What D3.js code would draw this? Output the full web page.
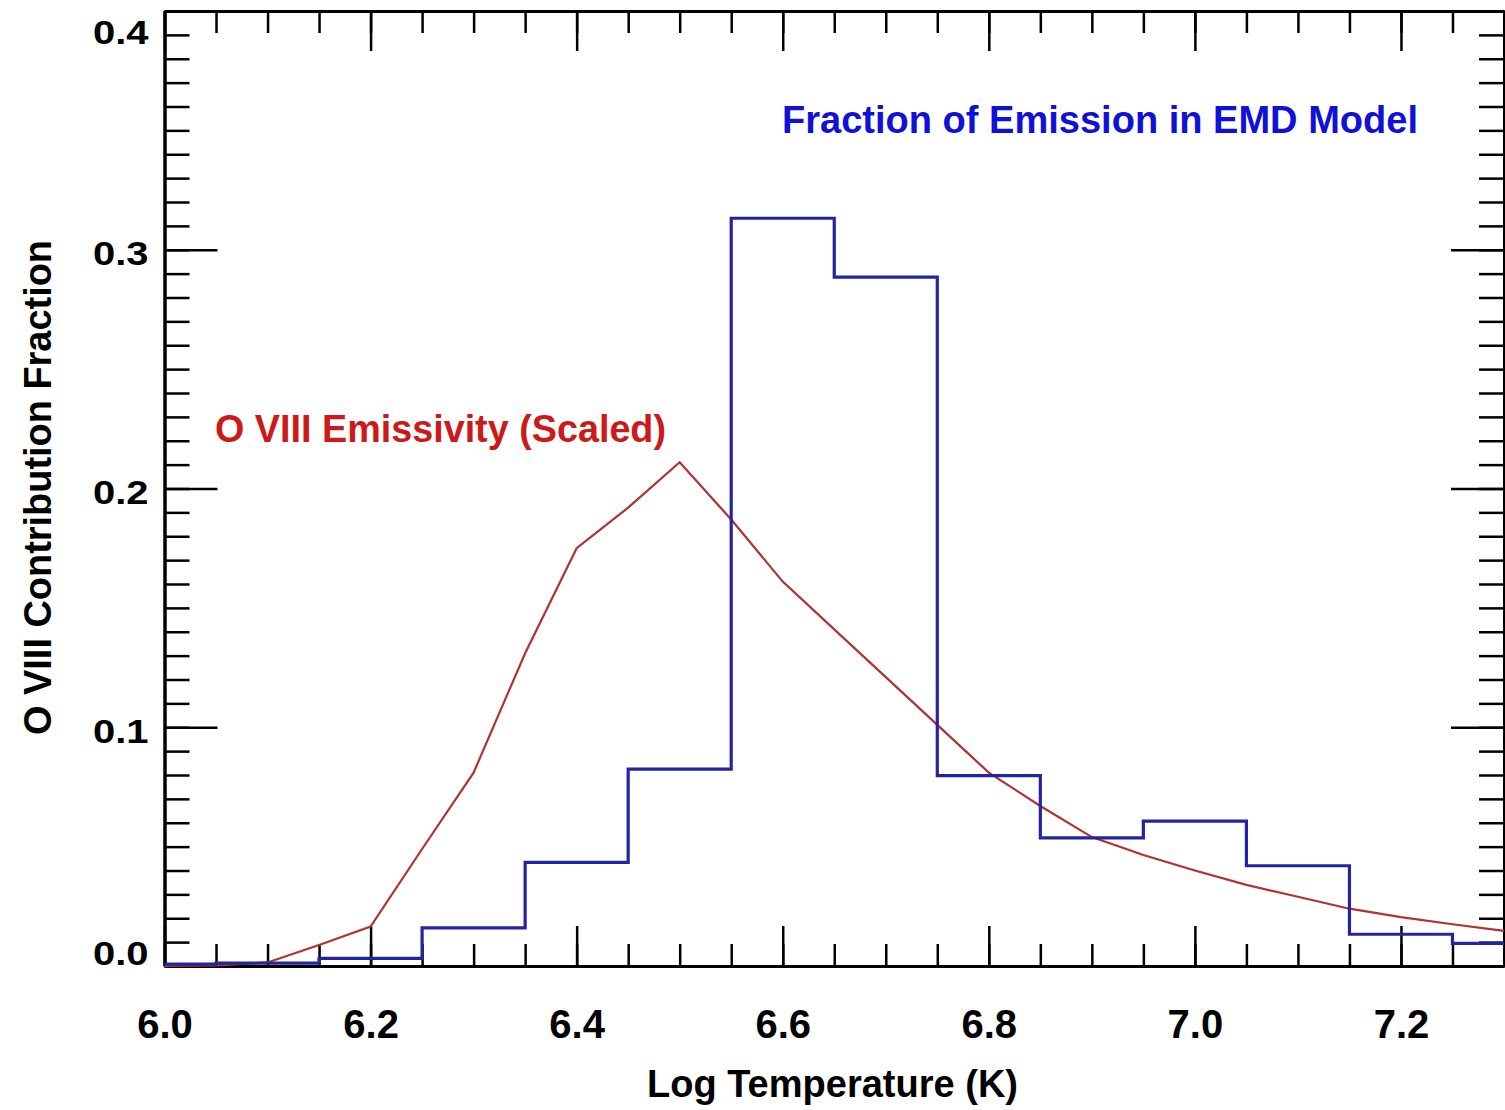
<!DOCTYPE html>
<html>
<head>
<meta charset="utf-8">
<script src="https://cdn.jsdelivr.net/npm/d3@7"></script>
<style>
  body { margin: 0; background: #fff; }
  svg text { font-family: "Liberation Sans", Arial, Helvetica, sans-serif; font-weight: bold; }
</style>
</head>
<body>
<div id="chart"></div>
<script>
// EMD histogram (bin centres, psym=10 style)
var emdTemps = [6.0, 6.1, 6.2, 6.3, 6.4, 6.5, 6.6, 6.7, 6.8, 6.9, 7.0, 7.1, 7.2, 7.3];
var emdFraction = [0.0008, 0.0012, 0.0032, 0.016, 0.0434, 0.0825, 0.3132, 0.2885, 0.0797, 0.0537, 0.0607, 0.042, 0.0133, 0.0095];

// O VIII emissivity, scaled
var emisTemps = [6.0, 6.05, 6.1, 6.15, 6.2, 6.25, 6.3, 6.35, 6.4, 6.45, 6.5, 6.55, 6.6, 6.65, 6.7, 6.75, 6.8, 6.85, 6.9, 6.95, 7.0, 7.05, 7.1, 7.15, 7.2, 7.25, 7.3];
var emisScaled = [0.0, 0.0003, 0.0015, 0.0088, 0.0165, 0.049, 0.081, 0.131, 0.175, 0.192, 0.211, 0.187, 0.161, 0.141, 0.121, 0.101, 0.081, 0.067, 0.054, 0.0465, 0.040, 0.034, 0.029, 0.024, 0.0205, 0.0175, 0.0147];

var xMajor = [6.0, 6.2, 6.4, 6.6, 6.8, 7.0, 7.2];
var yMajor = [0.0, 0.1, 0.2, 0.3, 0.4];

var fullwidth = 1505, fullheight = 1110;
var margin = {top: 11, right: 1, bottom: 144, left: 164.5};
var width = fullwidth - margin.left - margin.right,
    height = fullheight - margin.top - margin.bottom;

var svg = d3.select("#chart").append("svg")
    .attr("width", fullwidth)
    .attr("height", fullheight);
var g = svg.append("g")
    .attr("transform", "translate(" + margin.left + "," + margin.top + ")");

var xScale = d3.scaleLinear().domain([6.0, 7.3]).range([0, width]);
var yScale = d3.scaleLinear().domain([0, 0.4]).range([height, 0]);

var xMinor = d3.range(6.0, 7.3001, 0.05).map(d => +d.toFixed(2));
var yMinor = d3.range(0, 0.4001, 0.01).map(d => +d.toFixed(2));

function styleAxis(sel) {
    sel.selectAll(".domain").attr("stroke-width", 3).attr("stroke", "#000");
    sel.selectAll(".tick line").attr("stroke-width", 2.5).attr("stroke", "#000");
}

// bottom
g.append("g").attr("transform", "translate(0," + height + ")")
    .call(d3.axisBottom(xScale).tickValues(xMinor).tickSizeInner(-22).tickSizeOuter(0).tickFormat(""))
    .call(styleAxis);
var xAx = g.append("g").attr("transform", "translate(0," + height + ")")
    .call(d3.axisBottom(xScale).tickValues(xMajor).tickSizeInner(-40).tickSizeOuter(0).tickPadding(44).tickFormat(d3.format(".1f")))
    .call(styleAxis);
xAx.selectAll("text").attr("font-size", 40).attr("fill", "#000");

// top
g.append("g")
    .call(d3.axisTop(xScale).tickValues(xMinor).tickSizeInner(-22).tickSizeOuter(0).tickFormat(""))
    .call(styleAxis);
g.append("g")
    .call(d3.axisTop(xScale).tickValues(xMajor).tickSizeInner(-40).tickSizeOuter(0).tickFormat(""))
    .call(styleAxis);

// left
g.append("g")
    .call(d3.axisLeft(yScale).tickValues(yMinor).tickSizeInner(-25).tickSizeOuter(0).tickFormat(""))
    .call(styleAxis);
var yAx = g.append("g")
    .call(d3.axisLeft(yScale).tickValues(yMajor).tickSizeInner(-53).tickSizeOuter(0).tickPadding(16).tickFormat(d3.format(".1f")))
    .call(styleAxis);
yAx.selectAll("text")
    .attr("font-size", 40).attr("fill", "#000")
    .attr("transform", "scale(1,0.82)")
    .attr("dy", function(d) {
        if (d === 0) return "-0.05em";
        if (d === 0.4) return "0.98em";
        return "0.45em";
    });

// right
g.append("g").attr("transform", "translate(" + width + ",0)")
    .call(d3.axisRight(yScale).tickValues(yMinor).tickSizeInner(-25).tickSizeOuter(0).tickFormat(""))
    .call(styleAxis);
g.append("g").attr("transform", "translate(" + width + ",0)")
    .call(d3.axisRight(yScale).tickValues(yMajor).tickSizeInner(-53).tickSizeOuter(0).tickFormat(""))
    .call(styleAxis);

// emissivity curve
var emisData = emisTemps.map((t, i) => ({t: t, v: emisScaled[i]}));
g.append("path")
    .datum(emisData)
    .attr("fill", "none")
    .attr("stroke", "#b23232")
    .attr("stroke-width", 2.2)
    .attr("d", d3.line().x(d => xScale(d.t)).y(d => yScale(d.v)));

// EMD histogram
var emdData = emdTemps.map((t, i) => ({t: t, v: emdFraction[i]}));
g.append("path")
    .datum(emdData)
    .attr("fill", "none")
    .attr("stroke", "#2424a0")
    .attr("stroke-width", 3.2)
    .attr("d", d3.line().curve(d3.curveStep).x(d => xScale(d.t)).y(d => yScale(d.v)));

// labels
svg.append("text")
    .attr("x", 782).attr("y", 133)
    .attr("font-size", 38).attr("fill", "#1010d8")
    .attr("textLength", 636).attr("lengthAdjust", "spacingAndGlyphs")
    .text("Fraction of Emission in EMD Model");

svg.append("text")
    .attr("x", 215).attr("y", 442)
    .attr("font-size", 38).attr("fill", "#cc1a1a")
    .attr("textLength", 451).attr("lengthAdjust", "spacingAndGlyphs")
    .text("O VIII Emissivity (Scaled)");

svg.append("text")
    .attr("x", 647).attr("y", 1097)
    .attr("font-size", 38).attr("fill", "#000")
    .attr("textLength", 371).attr("lengthAdjust", "spacingAndGlyphs")
    .text("Log Temperature (K)");

svg.append("text")
    .attr("transform", "translate(51,735) rotate(-90)")
    .attr("font-size", 38).attr("fill", "#000")
    .attr("textLength", 495).attr("lengthAdjust", "spacingAndGlyphs")
    .text("O VIII Contribution Fraction");
</script>
</body>
</html>
